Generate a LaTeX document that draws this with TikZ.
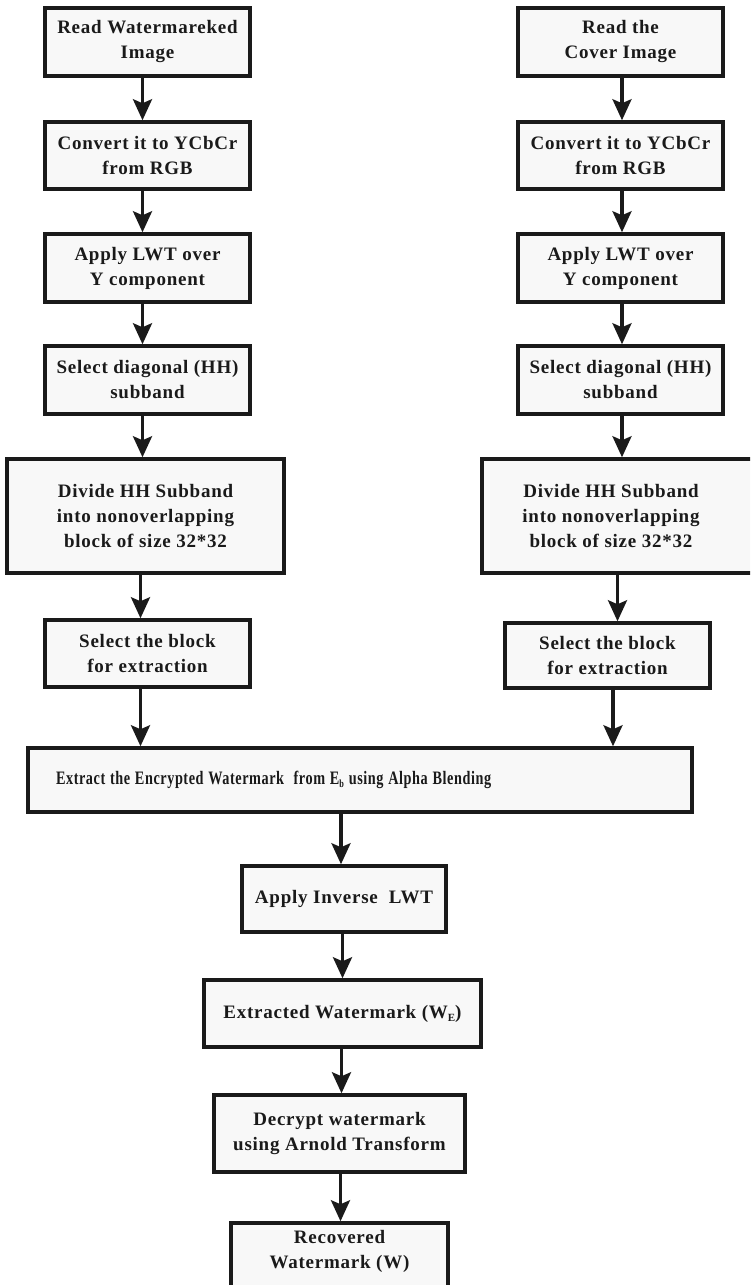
\documentclass[tikz,border=0pt]{standalone}
\usepackage{fontspec}
\setmainfont{Liberation Serif}[LetterSpace=4]
\usetikzlibrary{arrows.meta}
\definecolor{boxfill}{HTML}{F8F8F8}
\definecolor{ink}{HTML}{1A1A1A}
\newcommand{\sub}[1]{\raisebox{-3pt}{\fontsize{11}{11}\selectfont #1}}
\begin{document}
\begin{tikzpicture}[x=1pt,y=-1pt,
  box/.style={draw=ink,line width=3.5pt,fill=boxfill,inner sep=0pt,align=center,
    font=\fontsize{19}{25}\selectfont\bfseries,text=ink},
  arr/.style={draw=ink,line width=3.2pt,-{Stealth[length=21pt,width=19pt,inset=4pt]}}]
\useasboundingbox (0,0) rectangle (750,1285);
\clip (0,0) rectangle (750,1285);
\fill[white] (0,0) rectangle (750,1285);
% left column
\node[box,minimum width=205pt,minimum height=68pt] (L1) at (147.5,42) {Read Watermareked\\Image};
\node[box,minimum width=205pt,minimum height=67pt] (L2) at (147.5,155.5) {Convert it to YCbCr\\from RGB};
\node[box,minimum width=205pt,minimum height=68pt] (L3) at (147.5,268) {Apply LWT over\\Y component};
\node[box,minimum width=205pt,minimum height=68pt] (L4) at (147.5,380) {Select diagonal (HH)\\subband};
\node[box,minimum width=277pt,minimum height=114pt] (L5) at (145.5,516) {Divide HH Subband\\into nonoverlapping\\block of size 32*32};
\node[box,minimum width=205pt,minimum height=67pt] (L6) at (147.5,653.5) {Select the block\\for extraction};
% right column
\node[box,minimum width=205pt,minimum height=68pt] (R1) at (620.5,42) {Read the\\Cover Image};
\node[box,minimum width=205pt,minimum height=67pt] (R2) at (620.5,155.5) {Convert it to YCbCr\\from RGB};
\node[box,minimum width=205pt,minimum height=68pt] (R3) at (620.5,268) {Apply LWT over\\Y component};
\node[box,minimum width=205pt,minimum height=68pt] (R4) at (620.5,380) {Select diagonal (HH)\\subband};
\node[box,minimum width=278pt,minimum height=114pt] (R5) at (621,516) {\hspace*{-20pt}Divide HH Subband\\\hspace*{-20pt}into nonoverlapping\\\hspace*{-20pt}block of size 32*32};
\node[box,minimum width=205pt,minimum height=65pt] (R6) at (607.5,655.5) {Select the block\\for extraction};
% merged column
\node[box,minimum width=664pt,minimum height=64pt,text width=608pt,align=left,inner xsep=28pt] (E) at (360,780)
  {\scalebox{0.75}[1]{Extract the Encrypted Watermark\ \ from E\sub{b} using Alpha Blending}};
\node[box,minimum width=204pt,minimum height=66pt] (A) at (344,899) {Apply Inverse\ \ LWT};
\node[box,minimum width=277pt,minimum height=67pt] (X) at (342.5,1013.5) {Extracted Watermark (W\sub{E})};
\node[box,minimum width=251pt,minimum height=77pt] (D) at (339.5,1133.5) {Decrypt watermark\\using Arnold Transform};
\node[box,minimum width=217pt,minimum height=72pt,text depth=20pt] (W) at (339.5,1259) {Recovered\\Watermark (W)};
% connectors
\foreach \a/\b in {L1/L2,L2/L3,L3/L4,L4/L5,L5/L6}
  \draw[arr] ([xshift=-5pt]\a.south) -- ([xshift=-5pt]\a.south |- \b.north);
\foreach \a/\b in {R1/R2,R2/R3,R3/R4,R4/R5}
  \draw[arr] ([xshift=1.5pt]\a.south) -- ([xshift=1.5pt]\a.south |- \b.north);
\draw[arr] ([xshift=10pt]R6.north |- R5.south) -- ([xshift=10pt]R6.north);
\draw[arr] ([xshift=-7pt]L6.south) -- ([xshift=-7pt]L6.south |- E.north);
\draw[arr] ([xshift=5.5pt]R6.south) -- ([xshift=5.5pt]R6.south |- E.north);
\draw[arr] ([xshift=-3pt]A.north |- E.south) -- ([xshift=-3pt]A.north);
\draw[arr] (X.north |- A.south) -- (X.north);
\draw[arr] ([xshift=2pt]D.north |- X.south) -- ([xshift=2pt]D.north);
\draw[arr] ([xshift=1pt]W.north |- D.south) -- ([xshift=1pt]W.north);
\end{tikzpicture}
\end{document}
